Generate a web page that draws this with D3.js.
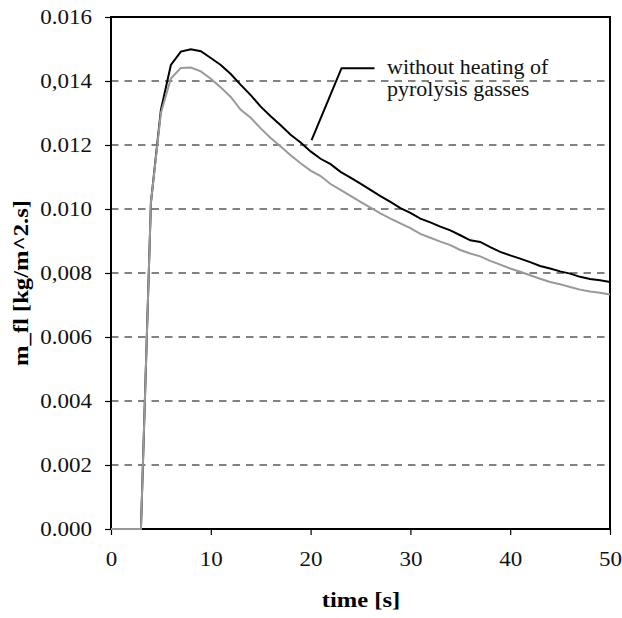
<!DOCTYPE html>
<html><head><meta charset="utf-8">
<script src="https://cdn.jsdelivr.net/npm/d3@7"></script>
<style>body{margin:0;background:#fff}svg{display:block}
svg text{font-family:"Liberation Serif","DejaVu Serif",serif;}</style>
</head><body>
<script>
const time = d3.range(0, 51);
const withoutHeating = [0,0,0,0,0.0102,0.0131,0.01450,0.01492,0.01499,0.01493,0.01472,0.01450,0.01422,0.01388,0.01356,0.01320,0.01290,0.01262,0.01232,0.01208,0.01180,0.01157,0.01140,0.01116,0.01098,0.01079,0.01060,0.01040,0.01022,0.01003,0.00988,0.00970,0.00958,0.00945,0.00933,0.00918,0.00902,0.00897,0.00881,0.00866,0.00855,0.00845,0.00834,0.00822,0.00814,0.00805,0.00798,0.00788,0.00781,0.00777,0.00772];
const withHeating = [0,0,0,0,0.0102,0.0130,0.01408,0.01441,0.01442,0.01430,0.01407,0.01380,0.01350,0.01310,0.01285,0.01252,0.01222,0.01195,0.01168,0.01143,0.01120,0.01103,0.01078,0.01060,0.01041,0.01022,0.01004,0.00986,0.00970,0.00955,0.00940,0.00922,0.00910,0.00898,0.00887,0.00872,0.00861,0.00852,0.00838,0.00826,0.00814,0.00804,0.00793,0.00782,0.00772,0.00765,0.00756,0.00748,0.00742,0.00738,0.00733];
const yTicks = [0,0.002,0.004,0.006,0.008,0.010,0.012,0.014,0.016];
const yTickLabels = ["0.000","0.002","0.004","0.006","0,008","0.010","0.012","0,014","0.016"];
const xTicks = [0,10,20,30,40,50];

const W = 622, H = 618;
const m = {left:111, right:12, top:17, bottom:89};
const svg = d3.select("body").append("svg").attr("width",W).attr("height",H);
const x = d3.scaleLinear().domain([0,50]).range([m.left, W-m.right]);
const y = d3.scaleLinear().domain([0,0.016]).range([H-m.bottom, m.top]);

function stretch(sel, k){
  sel.each(function(){
    const len = this.getComputedTextLength();
    d3.select(this).attr("textLength", len*k).attr("lengthAdjust","spacingAndGlyphs");
  });
}

// grid
svg.append("g").selectAll("line").data(yTicks.slice(1,-1)).join("line")
  .attr("x1",x(0)).attr("x2",x(50)).attr("y1",d=>y(d)).attr("y2",d=>y(d))
  .attr("stroke","#5a5a5a").attr("stroke-width",1.3).attr("stroke-dasharray","7.5,6");

// axes
const ya = svg.append("g").attr("transform",`translate(${x(0)},0)`)
  .call(d3.axisLeft(y).tickValues(yTicks).tickFormat((d,i)=>yTickLabels[i]).tickSize(6).tickPadding(13));
const xa = svg.append("g").attr("transform",`translate(0,${y(0)})`)
  .call(d3.axisBottom(x).tickValues(xTicks).tickSize(6).tickPadding(17));
[ya,xa].forEach(a=>{
  a.select(".domain").remove();
  a.selectAll("line").attr("stroke","#000").attr("stroke-width",1.2);
  a.selectAll("text").attr("font-family",null).attr("font-size",20).attr("fill","#111");
  stretch(a.selectAll("text"), 1.15);
});

// frame
svg.append("rect").attr("x",x(0)).attr("y",y(0.016)).attr("width",x(50)-x(0)).attr("height",y(0)-y(0.016))
  .attr("fill","none").attr("stroke","#000").attr("stroke-width",2);

// lines
const line = d3.line().x((d,i)=>x(time[i])).y(d=>y(d));
svg.append("path").datum(withoutHeating).attr("d",line).attr("fill","none").attr("stroke","#000").attr("stroke-width",2);
svg.append("path").datum(withHeating).attr("d",line).attr("fill","none").attr("stroke","#999").attr("stroke-width",2);

// annotation
svg.append("polyline").attr("points",[[x(20.1),y(0.01215)],[x(23.1),y(0.01440)],[x(26.4),y(0.01440)]].map(p=>p.join(",")).join(" "))
  .attr("fill","none").attr("stroke","#000").attr("stroke-width",2);
const ann = svg.append("g").attr("font-size",20).attr("fill","#111");
ann.append("text").attr("x",387).attr("y",74).text("without heating of");
ann.append("text").attr("x",387).attr("y",96).text("pyrolysis gasses");
stretch(ann.selectAll("text"), 1.1);

// titles
const t1 = svg.append("text").attr("x",361).attr("y",607).attr("text-anchor","middle")
  .attr("font-weight","bold").attr("font-size",21).text("time [s]");
const t2 = svg.append("text").attr("transform",`translate(28,283) rotate(-90)`).attr("text-anchor","middle")
  .attr("font-weight","bold").attr("font-size",21).text("m_fl [kg/m^2.s]");
stretch(t1, 1.17); stretch(t2, 1.17);
</script>
</body></html>
